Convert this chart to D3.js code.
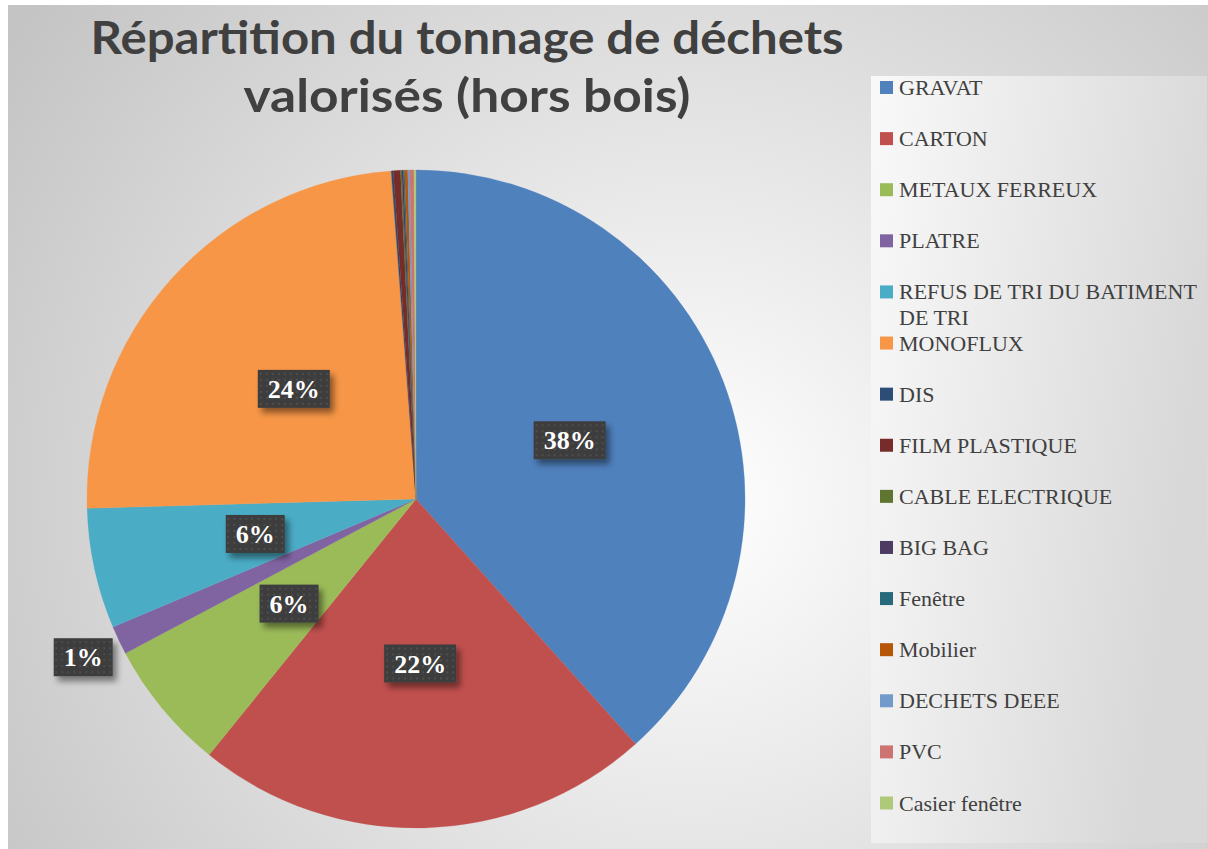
<!DOCTYPE html>
<html>
<head>
<meta charset="utf-8">
<script src="https://cdn.jsdelivr.net/npm/d3@7"></script>
<style>
  html, body { margin: 0; padding: 0; background: #ffffff; }
  svg { display: block; }
</style>
</head>
<body>
<svg id="chart" width="1208" height="849"></svg>
<script>
// ---- data ----
const titleLines = ["Répartition du tonnage de déchets", "valorisés (hors bois)"];
const categories = ["GRAVAT", "CARTON", "METAUX FERREUX", "PLATRE",
  "REFUS DE TRI DU BATIMENT DE TRI", "MONOFLUX", "DIS", "FILM PLASTIQUE",
  "CABLE ELECTRIQUE", "BIG BAG", "Fenêtre", "Mobilier", "DECHETS DEEE", "PVC", "Casier fenêtre"];
const values = [38.3, 22.4, 6.4, 1.4, 5.9, 24.2, 0.1, 0.35, 0.06, 0.08, 0.06, 0.15, 0.1, 0.2, 0.1];
const palette = ["#4f81bd", "#c0504d", "#9bbb59", "#8064a2", "#4bacc6", "#f79646",
  "#2c4d75", "#772c2a", "#5f7530", "#4d3b62", "#276a7c", "#b65708", "#729aca", "#cd7371", "#afc97a"];

// ---- drawing ----
const svg = d3.select("#chart");
const defs = svg.append("defs");

const bg = defs.append("radialGradient").attr("id", "bgGrad")
  .attr("gradientUnits", "userSpaceOnUse").attr("cx", 690).attr("cy", 500).attr("r", 820);
bg.append("stop").attr("offset", 0).attr("stop-color", "#ffffff");
bg.append("stop").attr("offset", 1).attr("stop-color", "#c4c4c4");

const lg = defs.append("linearGradient").attr("id", "legGrad")
  .attr("x1", 0).attr("y1", 0).attr("x2", 1).attr("y2", 0.3);
lg.append("stop").attr("offset", 0).attr("stop-color", "#f9f9f9");
lg.append("stop").attr("offset", 1).attr("stop-color", "#d8d8d8");

const pat = defs.append("pattern").attr("id", "dots").attr("patternUnits", "userSpaceOnUse")
  .attr("width", 6).attr("height", 6);
pat.append("rect").attr("width", 6).attr("height", 6).attr("fill", "#3d3d3d");
pat.append("circle").attr("cx", 3).attr("cy", 3).attr("r", 1.1).attr("fill", "#525252");

const sh = defs.append("filter").attr("id", "shadow").attr("x", "-30%").attr("y", "-30%")
  .attr("width", "170%").attr("height", "190%");
sh.append("feDropShadow").attr("dx", 4).attr("dy", 5).attr("stdDeviation", 3)
  .attr("flood-color", "#000").attr("flood-opacity", 0.45);

// background
svg.append("rect").attr("x", 8).attr("y", 5).attr("width", 1300).attr("height", 900)
  .attr("fill", "url(#bgGrad)");

// title
const title = svg.append("g");
titleLines.forEach((t, i) => {
  title.append("text")
    .attr("x", 467).attr("y", 54 + i * 58)
    .attr("text-anchor", "middle")
    .attr("font-family", "Lato, 'Open Sans', sans-serif")
    .attr("font-weight", "bold")
    .attr("font-size", 45)
    .attr("fill", "#404040")
    .attr("textLength", i === 0 ? 753 : 447)
    .attr("lengthAdjust", "spacingAndGlyphs")
    .text(t);
});

// pie
const cx = 416, cy = 499, R = 329;
const pie = d3.pie().sort(null).value(d => d)(values);
const arc = d3.arc().innerRadius(0).outerRadius(R);
const total = d3.sum(values);
const color = d3.scaleOrdinal().domain(categories).range(palette);

const g = svg.append("g").attr("transform", `translate(${cx},${cy})`);
g.selectAll("path.slice").data(pie).join("path")
  .attr("class", "slice")
  .attr("d", arc)
  .attr("fill", (d, i) => color(categories[i]))
  .attr("stroke", (d, i) => color(categories[i]))
  .attr("stroke-width", 0.3);

// data labels
const inner = d3.arc().innerRadius(R * 0.5).outerRadius(R * 0.5);
const outer = d3.arc().innerRadius(R * 1.12).outerRadius(R * 1.12);
const labelData = pie.map((d, i) => ({ d, i, pct: Math.round(d.value / total * 100) }))
  .filter(o => o.pct >= 1);
labelData.forEach(o => {
  const small = (o.d.value / total) < 0.03;
  const [lx, ly] = (small ? outer : inner).centroid(o.d);
  const lab = g.append("g").attr("transform", `translate(${lx},${ly})`);
  const txt = o.pct + "%";
  const t = lab.append("text")
    .attr("text-anchor", "middle").attr("dy", "0.35em")
    .attr("font-family", "'Liberation Serif', serif").attr("font-weight", "bold")
    .attr("font-size", 26).attr("fill", "#ffffff").text(txt);
  const w = t.node().getComputedTextLength() + 20;
  const h = 38;
  lab.insert("rect", "text").attr("x", -w / 2).attr("y", -h / 2)
    .attr("width", w).attr("height", h).attr("fill", "url(#dots)")
    .attr("filter", "url(#shadow)");
});

// legend
svg.append("rect").attr("x", 871).attr("y", 76).attr("width", 336).attr("height", 767)
  .attr("fill", "url(#legGrad)");
const legend = svg.append("g");
const rowY = d3.scaleLinear().domain([0, categories.length - 1]).range([87.5, 803]);
categories.forEach((c, i) => {
  const y = rowY(i);
  legend.append("rect").attr("x", 880).attr("y", y - 6.5).attr("width", 13).attr("height", 13)
    .attr("fill", color(c));
  const t = legend.append("text")
    .attr("x", 899).attr("y", y + 7.5)
    .attr("font-family", "'Liberation Serif', serif").attr("font-size", 22)
    .attr("fill", "#404040");
  // word wrap
  const words = c.split(" ");
  let line = [];
  let ts = t.append("tspan").attr("x", 899);
  let lineNo = 0;
  words.forEach(wd => {
    line.push(wd);
    ts.text(line.join(" "));
    if (ts.node().getComputedTextLength() > 304 && line.length > 1) {
      line.pop();
      ts.text(line.join(" "));
      line = [wd];
      lineNo++;
      ts = t.append("tspan").attr("x", 899).attr("dy", 26).text(wd);
    }
  });
});
</script>
</body>
</html>
